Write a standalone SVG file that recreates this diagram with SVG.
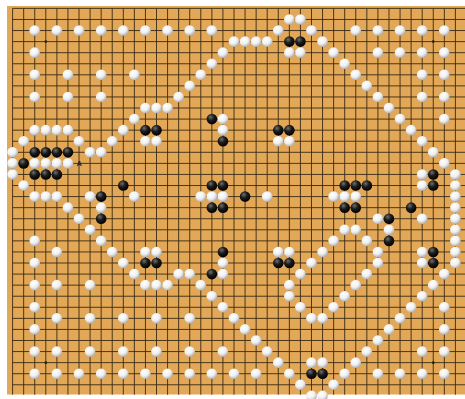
<svg xmlns="http://www.w3.org/2000/svg" xmlns:xlink="http://www.w3.org/1999/xlink" width="465" height="399" viewBox="0 0 465 399">
<style>
.grid{fill:none;stroke:#3a2a12;stroke-width:0.9;vector-effect:non-scaling-stroke}
.lbl{font-family:"Liberation Sans",Arial,sans-serif;font-size:7px;font-weight:bold;fill:#222}
</style>
<defs>
<radialGradient id="gw" cx="0.38" cy="0.32" r="0.72">
<stop offset="0" stop-color="#ffffff"/><stop offset="0.55" stop-color="#f0f0f0"/><stop offset="1" stop-color="#a9a9a9"/>
</radialGradient>
<radialGradient id="gb" cx="0.38" cy="0.32" r="0.7">
<stop offset="0" stop-color="#6e6e6e"/><stop offset="0.45" stop-color="#1c1c1c"/><stop offset="1" stop-color="#000"/>
</radialGradient>
<circle id="w" r="0.48" fill="url(#gw)"/>
<circle id="b" r="0.48" fill="url(#gb)"/>
</defs>
<rect x="0" y="0" width="465" height="399" fill="#ffffff"/>
<rect x="7" y="6" width="458" height="388.5" fill="#e2a857"/>
<g id="board" transform="translate(12.6 8.4) scale(11.07)">
<path class="grid" d="M0 0v34.9m1-34.9v34.9m1-34.9v34.9m1-34.9v34.9m1-34.9v34.9m1-34.9v34.9m1-34.9v34.9m1-34.9v34.9m1-34.9v34.9m1-34.9v34.9m1-34.9v34.9m1-34.9v34.9m1-34.9v34.9m1-34.9v34.9m1-34.9v34.9m1-34.9v34.9m1-34.9v34.9m1-34.9v34.9m1-34.9v34.9m1-34.9v34.9m1-34.9v34.9m1-34.9v34.9m1-34.9v34.9m1-34.9v34.9m1-34.9v34.9m1-34.9v34.9m1-34.9v34.9m1-34.9v34.9m1-34.9v34.9m1-34.9v34.9m1-34.9v34.9m1-34.9v34.9m1-34.9v34.9m1-34.9v34.9m1-34.9v34.9m1-34.9v34.9m1-34.9v34.9m1-34.9v34.9m1-34.9v34.9m1-34.9v34.9m1-34.9v34.9"/>
<path class="grid" d="M0 0h41m-41 1h41m-41 1h41m-41 1h41m-41 1h41m-41 1h41m-41 1h41m-41 1h41m-41 1h41m-41 1h41m-41 1h41m-41 1h41m-41 1h41m-41 1h41m-41 1h41m-41 1h41m-41 1h41m-41 1h41m-41 1h41m-41 1h41m-41 1h41m-41 1h41m-41 1h41m-41 1h41m-41 1h41m-41 1h41m-41 1h41m-41 1h41m-41 1h41m-41 1h41m-41 1h41m-41 1h41m-41 1h41m-41 1h41m-41 1h41"/>
<g id="stars" fill="#2a1e0c">
<circle cx="3" cy="3" r="0.12"/><circle cx="38" cy="3" r="0.12"/><circle cx="3" cy="32" r="0.12"/><circle cx="38" cy="32" r="0.12"/>
</g>
<g id="white-stones">
<use href="#w" x="25" y="1"/><use href="#w" x="26" y="1"/>
<use href="#w" x="2" y="2"/><use href="#w" x="4" y="2"/><use href="#w" x="6" y="2"/><use href="#w" x="8" y="2"/><use href="#w" x="10" y="2"/><use href="#w" x="12" y="2"/><use href="#w" x="14" y="2"/><use href="#w" x="16" y="2"/><use href="#w" x="18" y="2"/><use href="#w" x="24" y="2"/><use href="#w" x="27" y="2"/><use href="#w" x="31" y="2"/><use href="#w" x="33" y="2"/><use href="#w" x="35" y="2"/><use href="#w" x="37" y="2"/><use href="#w" x="39" y="2"/>
<use href="#w" x="20" y="3"/><use href="#w" x="21" y="3"/><use href="#w" x="22" y="3"/><use href="#w" x="23" y="3"/><use href="#w" x="28" y="3"/>
<use href="#w" x="2" y="4"/><use href="#w" x="19" y="4"/><use href="#w" x="25" y="4"/><use href="#w" x="26" y="4"/><use href="#w" x="29" y="4"/><use href="#w" x="33" y="4"/><use href="#w" x="35" y="4"/><use href="#w" x="37" y="4"/><use href="#w" x="39" y="4"/>
<use href="#w" x="18" y="5"/><use href="#w" x="30" y="5"/>
<use href="#w" x="2" y="6"/><use href="#w" x="5" y="6"/><use href="#w" x="8" y="6"/><use href="#w" x="11" y="6"/><use href="#w" x="17" y="6"/><use href="#w" x="31" y="6"/><use href="#w" x="37" y="6"/><use href="#w" x="39" y="6"/>
<use href="#w" x="16" y="7"/><use href="#w" x="32" y="7"/>
<use href="#w" x="2" y="8"/><use href="#w" x="5" y="8"/><use href="#w" x="8" y="8"/><use href="#w" x="15" y="8"/><use href="#w" x="33" y="8"/><use href="#w" x="37" y="8"/><use href="#w" x="39" y="8"/>
<use href="#w" x="12" y="9"/><use href="#w" x="13" y="9"/><use href="#w" x="14" y="9"/><use href="#w" x="34" y="9"/>
<use href="#w" x="11" y="10"/><use href="#w" x="19" y="10"/><use href="#w" x="35" y="10"/><use href="#w" x="39" y="10"/>
<use href="#w" x="2" y="11"/><use href="#w" x="3" y="11"/><use href="#w" x="4" y="11"/><use href="#w" x="5" y="11"/><use href="#w" x="10" y="11"/><use href="#w" x="19" y="11"/><use href="#w" x="36" y="11"/>
<use href="#w" x="1" y="12"/><use href="#w" x="6" y="12"/><use href="#w" x="9" y="12"/><use href="#w" x="12" y="12"/><use href="#w" x="13" y="12"/><use href="#w" x="24" y="12"/><use href="#w" x="25" y="12"/><use href="#w" x="37" y="12"/>
<use href="#w" x="0" y="13"/><use href="#w" x="7" y="13"/><use href="#w" x="8" y="13"/><use href="#w" x="38" y="13"/>
<use href="#w" x="0" y="14"/><use href="#w" x="2" y="14"/><use href="#w" x="3" y="14"/><use href="#w" x="4" y="14"/><use href="#w" x="5" y="14"/><use href="#w" x="39" y="14"/>
<use href="#w" x="0" y="15"/><use href="#w" x="37" y="15"/><use href="#w" x="40" y="15"/>
<use href="#w" x="1" y="16"/><use href="#w" x="37" y="16"/><use href="#w" x="40" y="16"/>
<use href="#w" x="2" y="17"/><use href="#w" x="3" y="17"/><use href="#w" x="4" y="17"/><use href="#w" x="7" y="17"/><use href="#w" x="11" y="17"/><use href="#w" x="17" y="17"/><use href="#w" x="18" y="17"/><use href="#w" x="19" y="17"/><use href="#w" x="23" y="17"/><use href="#w" x="29" y="17"/><use href="#w" x="30" y="17"/><use href="#w" x="31" y="17"/><use href="#w" x="40" y="17"/>
<use href="#w" x="5" y="18"/><use href="#w" x="8" y="18"/><use href="#w" x="40" y="18"/>
<use href="#w" x="6" y="19"/><use href="#w" x="33" y="19"/><use href="#w" x="37" y="19"/><use href="#w" x="40" y="19"/>
<use href="#w" x="7" y="20"/><use href="#w" x="30" y="20"/><use href="#w" x="31" y="20"/><use href="#w" x="34" y="20"/><use href="#w" x="40" y="20"/>
<use href="#w" x="2" y="21"/><use href="#w" x="8" y="21"/><use href="#w" x="29" y="21"/><use href="#w" x="32" y="21"/><use href="#w" x="40" y="21"/>
<use href="#w" x="4" y="22"/><use href="#w" x="9" y="22"/><use href="#w" x="12" y="22"/><use href="#w" x="13" y="22"/><use href="#w" x="24" y="22"/><use href="#w" x="25" y="22"/><use href="#w" x="28" y="22"/><use href="#w" x="33" y="22"/><use href="#w" x="37" y="22"/><use href="#w" x="40" y="22"/>
<use href="#w" x="2" y="23"/><use href="#w" x="10" y="23"/><use href="#w" x="19" y="23"/><use href="#w" x="27" y="23"/><use href="#w" x="33" y="23"/><use href="#w" x="37" y="23"/><use href="#w" x="40" y="23"/>
<use href="#w" x="11" y="24"/><use href="#w" x="15" y="24"/><use href="#w" x="16" y="24"/><use href="#w" x="19" y="24"/><use href="#w" x="26" y="24"/><use href="#w" x="32" y="24"/><use href="#w" x="39" y="24"/>
<use href="#w" x="2" y="25"/><use href="#w" x="4" y="25"/><use href="#w" x="7" y="25"/><use href="#w" x="12" y="25"/><use href="#w" x="13" y="25"/><use href="#w" x="14" y="25"/><use href="#w" x="17" y="25"/><use href="#w" x="25" y="25"/><use href="#w" x="31" y="25"/><use href="#w" x="38" y="25"/>
<use href="#w" x="18" y="26"/><use href="#w" x="25" y="26"/><use href="#w" x="30" y="26"/><use href="#w" x="37" y="26"/>
<use href="#w" x="2" y="27"/><use href="#w" x="19" y="27"/><use href="#w" x="26" y="27"/><use href="#w" x="29" y="27"/><use href="#w" x="36" y="27"/><use href="#w" x="39" y="27"/>
<use href="#w" x="4" y="28"/><use href="#w" x="7" y="28"/><use href="#w" x="10" y="28"/><use href="#w" x="13" y="28"/><use href="#w" x="16" y="28"/><use href="#w" x="20" y="28"/><use href="#w" x="27" y="28"/><use href="#w" x="28" y="28"/><use href="#w" x="35" y="28"/>
<use href="#w" x="2" y="29"/><use href="#w" x="21" y="29"/><use href="#w" x="34" y="29"/><use href="#w" x="39" y="29"/>
<use href="#w" x="22" y="30"/><use href="#w" x="33" y="30"/>
<use href="#w" x="2" y="31"/><use href="#w" x="4" y="31"/><use href="#w" x="7" y="31"/><use href="#w" x="10" y="31"/><use href="#w" x="13" y="31"/><use href="#w" x="16" y="31"/><use href="#w" x="19" y="31"/><use href="#w" x="23" y="31"/><use href="#w" x="32" y="31"/><use href="#w" x="37" y="31"/><use href="#w" x="39" y="31"/>
<use href="#w" x="24" y="32"/><use href="#w" x="27" y="32"/><use href="#w" x="28" y="32"/><use href="#w" x="31" y="32"/>
<use href="#w" x="2" y="33"/><use href="#w" x="4" y="33"/><use href="#w" x="6" y="33"/><use href="#w" x="8" y="33"/><use href="#w" x="10" y="33"/><use href="#w" x="12" y="33"/><use href="#w" x="14" y="33"/><use href="#w" x="16" y="33"/><use href="#w" x="18" y="33"/><use href="#w" x="20" y="33"/><use href="#w" x="22" y="33"/><use href="#w" x="25" y="33"/><use href="#w" x="30" y="33"/><use href="#w" x="33" y="33"/><use href="#w" x="35" y="33"/><use href="#w" x="37" y="33"/><use href="#w" x="39" y="33"/>
<use href="#w" x="26" y="34"/><use href="#w" x="29" y="34"/>
<use href="#w" x="27" y="35"/><use href="#w" x="28" y="35"/>
</g>
<g id="black-stones">
<use href="#b" x="25" y="3"/><use href="#b" x="26" y="3"/>
<use href="#b" x="18" y="10"/>
<use href="#b" x="12" y="11"/><use href="#b" x="13" y="11"/><use href="#b" x="24" y="11"/><use href="#b" x="25" y="11"/>
<use href="#b" x="19" y="12"/>
<use href="#b" x="2" y="13"/><use href="#b" x="3" y="13"/><use href="#b" x="4" y="13"/><use href="#b" x="5" y="13"/>
<use href="#b" x="1" y="14"/>
<use href="#b" x="2" y="15"/><use href="#b" x="3" y="15"/><use href="#b" x="4" y="15"/><use href="#b" x="38" y="15"/>
<use href="#b" x="10" y="16"/><use href="#b" x="18" y="16"/><use href="#b" x="19" y="16"/><use href="#b" x="30" y="16"/><use href="#b" x="31" y="16"/><use href="#b" x="32" y="16"/><use href="#b" x="38" y="16"/>
<use href="#b" x="8" y="17"/><use href="#b" x="21" y="17"/>
<use href="#b" x="18" y="18"/><use href="#b" x="19" y="18"/><use href="#b" x="30" y="18"/><use href="#b" x="31" y="18"/><use href="#b" x="36" y="18"/>
<use href="#b" x="8" y="19"/><use href="#b" x="34" y="19"/>
<use href="#b" x="34" y="21"/>
<use href="#b" x="19" y="22"/><use href="#b" x="38" y="22"/>
<use href="#b" x="12" y="23"/><use href="#b" x="13" y="23"/><use href="#b" x="24" y="23"/><use href="#b" x="25" y="23"/><use href="#b" x="38" y="23"/>
<use href="#b" x="18" y="24"/>
<use href="#b" x="27" y="33"/><use href="#b" x="28" y="33"/>
</g>
</g>
<text class="lbl" x="79.3" y="166.2" text-anchor="middle">A</text>
</svg>
